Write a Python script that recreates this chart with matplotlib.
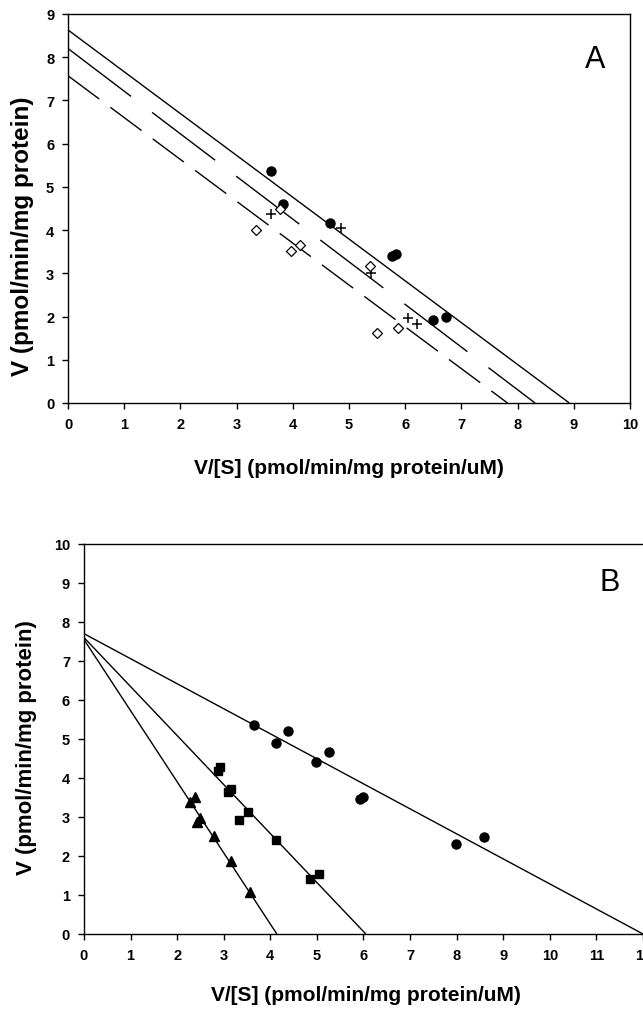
import matplotlib
matplotlib.use("Agg")
import matplotlib.pyplot as plt
import numpy as np

plt.rcParams['font.family'] = ['Liberation Sans', 'DejaVu Sans']

# --- panel A: Eadie-Hofstee data, three conditions ---
a_circle_x = [3.62, 3.83, 4.66, 5.76, 5.83, 6.49, 6.72]
a_circle_y = [5.36, 4.60, 4.16, 3.41, 3.45, 1.92, 1.98]
a_cross_x = [3.62, 4.85, 5.39, 6.05, 6.21]
a_cross_y = [4.37, 4.04, 3.01, 1.96, 1.83]
a_diam_x = [3.78, 3.35, 3.96, 4.12, 5.37, 5.49, 5.88]
a_diam_y = [4.49, 4.00, 3.52, 3.65, 3.18, 1.61, 1.73]
# fitted lines: (Vmax intercept, V/[S] intercept)
a_fit_vmax = [8.63, 8.20, 7.57]
a_fit_xint = [8.92, 8.31, 7.82]

# --- panel B ---
b_circle_x = [3.65, 4.12, 4.37, 4.99, 5.25, 5.93, 6.00, 7.99, 8.58]
b_circle_y = [5.37, 4.89, 5.20, 4.42, 4.66, 3.46, 3.52, 2.32, 2.48]
b_square_x = [2.87, 2.91, 3.09, 3.15, 3.33, 3.53, 4.12, 4.85, 5.04]
b_square_y = [4.19, 4.29, 3.63, 3.72, 2.93, 3.12, 2.42, 1.41, 1.54]
b_tri_x = [2.27, 2.39, 2.43, 2.50, 2.79, 3.15, 3.56]
b_tri_y = [3.38, 3.52, 2.88, 2.97, 2.50, 1.86, 1.07]
b_fit_vmax = [7.70, 7.60, 7.55]
b_fit_xint = [12.0, 6.05, 4.14]

XLABEL = "V/[S] (pmol/min/mg protein/uM)"
YLABEL = "V (pmol/min/mg protein)"


def fit_line(ax, vmax, xint, **kw):
    xs = np.array([0.0, xint])
    ax.plot(xs, vmax - vmax / xint * xs, color='black', lw=1.0,
            solid_capstyle='butt', dash_capstyle='butt', **kw)


def style_axes(ax, xmax, ymax, ylab_size, xlab_pos, ylab_pos):
    ax.set_xlim(0, xmax)
    ax.set_ylim(0, ymax)
    ax.set_xticks(range(0, xmax + 1))
    ax.set_yticks(range(0, ymax + 1))
    ax.tick_params(direction='out', length=4, width=1, labelsize=10.5,
                   pad=6, colors='black')
    for lab in ax.get_xticklabels() + ax.get_yticklabels():
        lab.set_fontweight('bold')
    for sp in ax.spines.values():
        sp.set_linewidth(1.0)
    ax.set_xlabel(XLABEL, fontsize=15, fontweight='bold')
    ax.set_ylabel(YLABEL, fontsize=ylab_size, fontweight='bold')
    ax.xaxis.set_label_coords(*xlab_pos)
    ax.yaxis.set_label_coords(*ylab_pos)


fig = plt.figure(figsize=(6.43, 10.12), dpi=100)

# panel A
ax1 = fig.add_axes([0.1058, 0.6008, 0.874, 0.3844])
style_axes(ax1, 10, 9, 17.5, (0.5, -0.141), (-0.060, 0.43))
fit_line(ax1, a_fit_vmax[0], a_fit_xint[0])
fit_line(ax1, a_fit_vmax[1], a_fit_xint[1], dashes=(57, 19))
fit_line(ax1, a_fit_vmax[2], a_fit_xint[2], dashes=(28, 10))
ax1.plot(a_circle_x, a_circle_y, 'o', color='black', ms=6.5, zorder=3)
ax1.plot(a_cross_x, a_cross_y, '+', color='black', ms=7, mew=1.1, zorder=3)
ax1.plot(a_diam_x, a_diam_y, 'D', mfc='white', mec='black', ms=5.5,
         mew=0.9, zorder=4)
ax1.text(0.938, 0.884, "A", transform=ax1.transAxes, fontsize=22,
         ha='center', va='center')

# panel B
ax2 = fig.add_axes([0.1306, 0.0761, 0.8694, 0.3854])
style_axes(ax2, 12, 10, 16, (0.505, -0.131), (-0.084, 0.48))
ax2.spines['right'].set_visible(False)
for vmax, xint in zip(b_fit_vmax, b_fit_xint):
    fit_line(ax2, vmax, xint)
ax2.plot(b_circle_x, b_circle_y, 'o', color='black', ms=6.5, zorder=3)
ax2.plot(b_square_x, b_square_y, 's', color='black', ms=6, zorder=3)
ax2.plot(b_tri_x, b_tri_y, '^', color='black', ms=6.5, zorder=3)
ax2.text(0.941, 0.903, "B", transform=ax2.transAxes, fontsize=22,
         ha='center', va='center')

fig.savefig("out.png", dpi=100)
